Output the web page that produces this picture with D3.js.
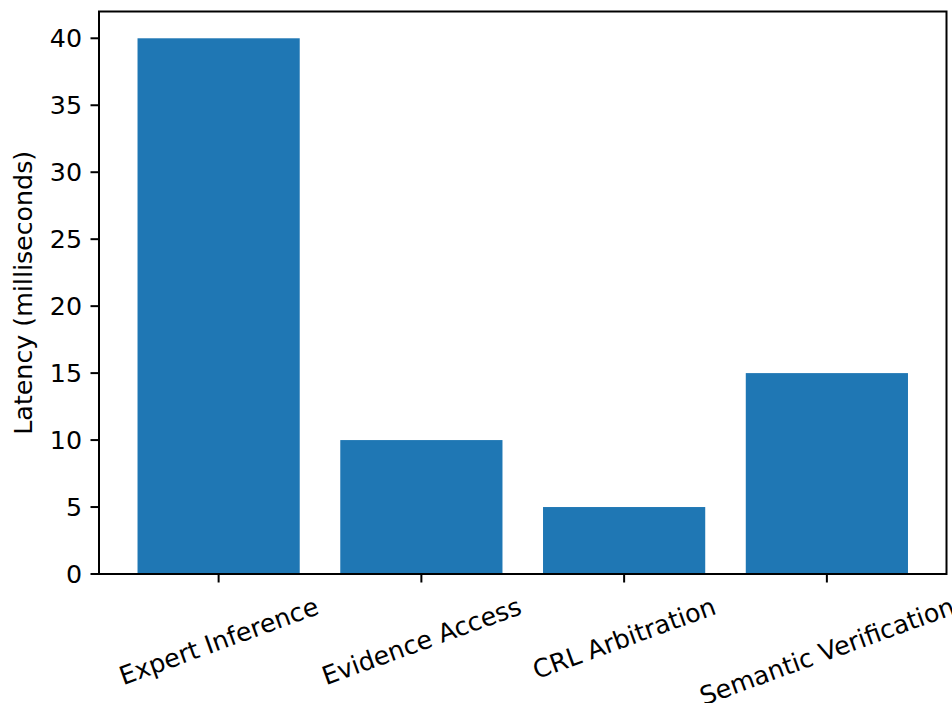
<!DOCTYPE html>
<html>
<head>
<meta charset="utf-8">
<script src="https://cdn.jsdelivr.net/npm/d3@7"></script>
<style>
  html, body { margin: 0; padding: 0; background: #fff; }
  svg { display: block; }
  text { font-family: "DejaVu Sans", sans-serif; fill: #000; }
</style>
</head>
<body>
<script>
// Latency per pipeline stage
const categories = ["Expert Inference", "Evidence Access", "CRL Arbitration", "Semantic Verification"];
const latencyMs = [40, 10, 5, 15];
const yTicks = [0, 5, 10, 15, 20, 25, 30, 35, 40];
const yLabel = "Latency (milliseconds)";

const W = 952, H = 703;
const plot = { left: 99, right: 946.5, top: 11.5, bottom: 574 };
const fontSize = 25.3;
const tickLen = 8.5, tickPad = 8.5, lineW = 2;
const barColor = "#1f77b4";
const barWidth = 0.8;
const rot = 20;

const svg = d3.select("body").append("svg")
  .attr("width", W).attr("height", H);

// Category positions on a continuous axis with 5% margins, bar width 0.8
const n = categories.length;
const lo = -barWidth / 2, hi = (n - 1) + barWidth / 2;
const pad = (hi - lo) * 0.05;
const x = d3.scaleLinear().domain([lo - pad, hi + pad]).range([plot.left, plot.right]);
const yMax = d3.max(latencyMs) * 1.05;
const y = d3.scaleLinear().domain([0, yMax]).range([plot.bottom, plot.top]);

// Bars
svg.append("g").selectAll("rect")
  .data(latencyMs)
  .join("rect")
  .attr("x", (d, i) => x(i - barWidth / 2))
  .attr("width", (d, i) => x(i + barWidth / 2) - x(i - barWidth / 2))
  .attr("y", d => y(d))
  .attr("height", d => y(0) - y(d))
  .attr("fill", barColor);

// Y axis ticks and labels
const yAxis = svg.append("g");
yAxis.selectAll("line")
  .data(yTicks)
  .join("line")
  .attr("x1", plot.left - tickLen).attr("x2", plot.left)
  .attr("y1", d => y(d)).attr("y2", d => y(d))
  .attr("stroke", "#000").attr("stroke-width", lineW);
yAxis.selectAll("text")
  .data(yTicks)
  .join("text")
  .attr("x", plot.left - tickLen - tickPad)
  .attr("y", d => y(d))
  .attr("dy", "0.36em")
  .attr("text-anchor", "end")
  .style("font-size", fontSize + "px")
  .text(d => d);

// X axis ticks
const xAxis = svg.append("g");
xAxis.selectAll("line")
  .data(categories)
  .join("line")
  .attr("x1", (d, i) => x(i)).attr("x2", (d, i) => x(i))
  .attr("y1", plot.bottom).attr("y2", plot.bottom + tickLen)
  .attr("stroke", "#000").attr("stroke-width", lineW);

// Rotated category labels: rotated box is centered on the tick, top aligned below it
const rad = rot * Math.PI / 180;
const lineH = fontSize * 1.17;
const labelTop = plot.bottom + tickLen + tickPad;
xAxis.selectAll("text")
  .data(categories)
  .join("text")
  .style("font-size", fontSize + "px")
  .attr("text-anchor", "middle")
  .text(d => d)
  .each(function (d, i) {
    const w = this.getComputedTextLength();
    const boxH = w * Math.sin(rad) + lineH * Math.cos(rad);
    const cx = x(i), cy = labelTop + boxH / 2;
    d3.select(this)
      .attr("x", 0).attr("y", 0)
      .attr("dy", "0.36em")
      .attr("transform", `translate(${cx},${cy}) rotate(${-rot})`);
  });

// Y axis title
svg.append("text")
  .attr("transform", `translate(23,${(plot.top + plot.bottom) / 2}) rotate(-90)`)
  .attr("text-anchor", "middle")
  .attr("dy", "0.36em")
  .style("font-size", fontSize + "px")
  .text(yLabel);

// Axes frame
svg.append("rect")
  .attr("x", plot.left).attr("y", plot.top)
  .attr("width", plot.right - plot.left)
  .attr("height", plot.bottom - plot.top)
  .attr("fill", "none")
  .attr("stroke", "#000").attr("stroke-width", lineW);
</script>
</body>
</html>
